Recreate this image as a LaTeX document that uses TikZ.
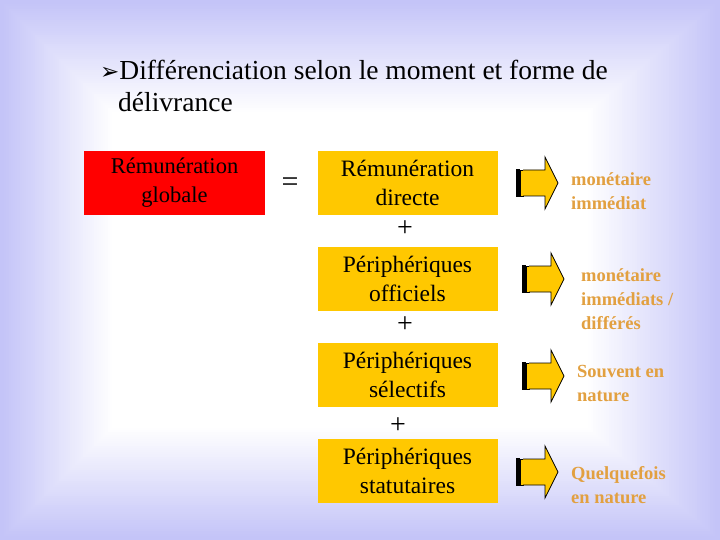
\documentclass[tikz,border=0pt]{standalone}
\usepackage{fontspec}
\setmainfont{Liberation Serif}
\newfontfamily\dejavu{DejaVu Sans}
\definecolor{lav}{RGB}{196,196,248}
\definecolor{gold}{RGB}{255,200,0}
\definecolor{ora}{RGB}{226,160,64}
\definecolor{redbox}{RGB}{255,0,0}
\tikzset{
 box/.style={minimum width=180pt,minimum height=64pt,align=center,font=\fontsize{23.5}{29}\selectfont,inner sep=0pt},
 lbl/.style={anchor=west,align=left,text=ora,font=\bfseries\fontsize{18.5}{24}\selectfont,inner sep=0pt},
 plus/.style={font=\fontsize{28}{28}\selectfont,inner sep=0pt}
}
\newcommand{\bigarrow}[2]{%
 \begin{scope}[shift={(#1,#2)},y=-1pt,x=1pt]
 \fill[black] (0,-14) rectangle (4,14);
 \filldraw[fill=gold,draw=black,line width=0.8pt] (4,-13) rectangle (7,13);
 \filldraw[fill=gold,draw=black,line width=0.8pt] (7,-13) -- (29,-13) -- (29,-26) -- (42,0) -- (29,26) -- (29,13) -- (7,13);
 \end{scope}}
\begin{document}
\begin{tikzpicture}[x=1pt,y=-1pt]
\useasboundingbox (0,0) rectangle (720,540);
\fill[lav] (0,0) rectangle (720,540);
\foreach \i in {0,...,50}{
 \pgfmathsetmacro{\m}{\i*2}
 \fill[white!\m!lav] (2+\i*2.2,2+\i*2.2) rectangle (718-\i*2.6,538-\i*2.2);
}
\node[anchor=west,inner sep=0pt,font=\fontsize{27.5}{27.5}\selectfont] (t1) at (100,70) {{\dejavu\fontsize{23}{23}\selectfont ➢}Différenciation selon le moment et forme de};
\node[anchor=west,inner sep=0pt,font=\fontsize{27.5}{27.5}\selectfont] (t2) at (118,102) {délivrance};
\node[box,fill=redbox,minimum width=181pt,font=\fontsize{22.5}{29}\selectfont] (g) at (174.5,183) {Rémunération\\globale};
\node[font=\fontsize{30}{30}\selectfont] (eq) at (290,185) {=};
\node[box,fill=gold] (b1) at (407.5,183) {Rémunération\\directe};
\node[box,fill=gold] (b2) at (407.5,279) {Périphériques\\officiels};
\node[box,fill=gold] (b3) at (407.5,375) {Périphériques\\sélectifs};
\node[box,fill=gold] (b4) at (407.5,471) {Périphériques\\statutaires};
\node[plus] (p1) at (405,229) {+};
\node[plus] (p2) at (405,325) {+};
\node[plus] (p3) at (398,426) {+};
\bigarrow{516}{183}
\bigarrow{522}{279}
\bigarrow{522}{376}
\bigarrow{516}{472}
\node[lbl] (l1) at (571,191) {monétaire\\immédiat};
\node[lbl] (l2) at (581,299) {monétaire\\immédiats /\\différés};
\node[lbl] (l3) at (577,383) {Souvent en\\nature};
\node[lbl] (l4) at (571,485) {Quelquefois\\en nature};
\end{tikzpicture}
\end{document}
